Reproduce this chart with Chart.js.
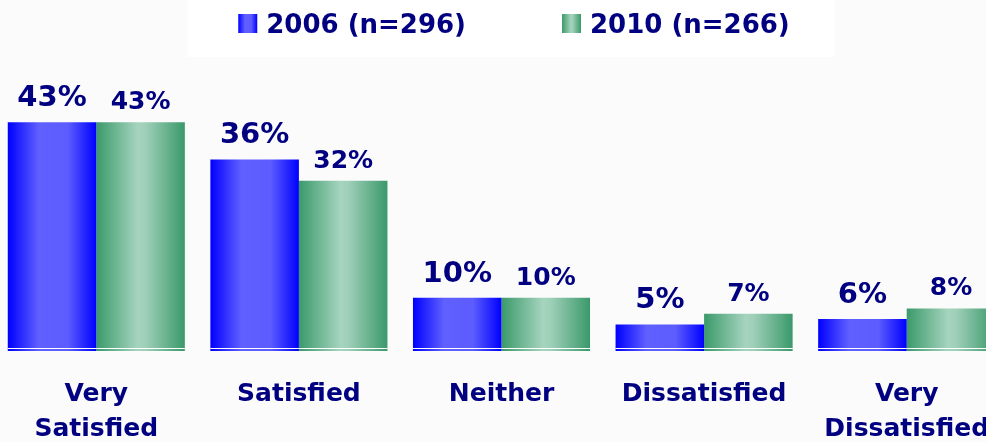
<!DOCTYPE html>
<html>
<head>
<meta charset="utf-8">
<script src="https://cdn.jsdelivr.net/npm/chart.js@4"></script>
<style>
  html, body { margin: 0; padding: 0; background: #fbfbfb; overflow: hidden; }
  body { width: 986px; height: 442px; position: relative; }
  #chart { position: absolute; left: -5px; top: 0; }
</style>
</head>
<body>
<canvas id="chart" width="1013" height="442"></canvas>
<script>
const categories = [['Very', 'Satisfied'], 'Satisfied', 'Neither', 'Dissatisfied', ['Very', 'Dissatisfied']];
const seriesNames = ['2006 (n=296)', '2010 (n=266)'];
const values2006 = [43, 36, 10, 5, 6];
const values2010 = [43, 32, 10, 7, 8];

const NAVY = '#000080';
const FONT = "'DejaVu Sans', Verdana, sans-serif";

function blueGradient(ctx, x0, x1) {
  const g = ctx.createLinearGradient(x0, 0, x1, 0);
  g.addColorStop(0, '#0000ff');
  g.addColorStop(0.35, '#6060ff');
  g.addColorStop(0.68, '#5c5cff');
  g.addColorStop(1, '#0000ff');
  return g;
}

function greenGradient(ctx, x0, x1) {
  const g = ctx.createLinearGradient(x0, 0, x1, 0);
  g.addColorStop(0, '#3a9a6a');
  g.addColorStop(0.47, '#a6d4bf');
  g.addColorStop(0.56, '#9ecfb8');
  g.addColorStop(1, '#3a996a');
  return g;
}

const makers = [blueGradient, greenGradient];

// horizontal gradient per bar, built from the element's own position
const barGradients = {
  id: 'barGradients',
  beforeDatasetsDraw(chart) {
    const ctx = chart.ctx;
    chart.data.datasets.forEach((ds, i) => {
      chart.getDatasetMeta(i).data.forEach((el) => {
        const x0 = el.x - el.width / 2;
        // options objects are shared between bars, so give each its own copy
        el.options = Object.assign({}, el.options, {
          backgroundColor: makers[i](ctx, x0, x0 + el.width),
        });
      });
    });
  },
  afterDatasetsDraw(chart) {
    const ctx = chart.ctx;
    ctx.save();
    // thin white line near the base of every bar
    chart.data.datasets.forEach((ds, i) => {
      chart.getDatasetMeta(i).data.forEach((el) => {
        ctx.fillStyle = '#ffffff';
        ctx.fillRect(el.x - el.width / 2, el.base - 3, el.width, 1);
      });
    });
    // value labels
    ctx.fillStyle = NAVY;
    ctx.textAlign = 'center';
    ctx.textBaseline = 'alphabetic';
    chart.data.datasets.forEach((ds, i) => {
      const size = i === 0 ? 29 : 25;
      const gap = i === 0 ? 16 : 13;
      ctx.font = 'bold ' + size + 'px ' + FONT;
      chart.getDatasetMeta(i).data.forEach((el, j) => {
        ctx.fillText(ds.data[j] + '%', el.x, el.y - gap);
      });
    });
    ctx.restore();
  },
};

// legend drawn on a white panel at the top
const topLegend = {
  id: 'topLegend',
  beforeDraw(chart) {
    const ctx = chart.ctx;
    const shift = 5; // canvas sits 5px left of the page
    ctx.save();
    ctx.fillStyle = '#ffffff';
    ctx.fillRect(187 + shift, 0, 648, 57);
    ctx.font = 'bold 26px ' + FONT;
    const box = 19, boxGap = 9, itemGap = 96;
    const widths = chart.data.datasets.map((d) => ctx.measureText(d.label).width);
    const total = widths.reduce((a, w) => a + box + boxGap + w, 0) + itemGap * (widths.length - 1);
    let x = 514 + shift - total / 2;
    chart.data.datasets.forEach((d, i) => {
      ctx.fillStyle = makers[i](ctx, x, x + box);
      ctx.fillRect(x, 14, box, box);
      ctx.fillStyle = NAVY;
      ctx.textBaseline = 'alphabetic';
      ctx.textAlign = 'left';
      ctx.fillText(d.label, x + box + boxGap, 33);
      x += box + boxGap + widths[i] + itemGap;
    });
    ctx.restore();
  },
};

new Chart(document.getElementById('chart'), {
  type: 'bar',
  plugins: [barGradients, topLegend],
  data: {
    labels: categories,
    datasets: [
      { label: seriesNames[0], data: values2006, backgroundColor: '#4040ff', borderWidth: 0 },
      { label: seriesNames[1], data: values2010, backgroundColor: '#6ab894', borderWidth: 0 },
    ],
  },
  options: {
    responsive: false,
    animation: false,
    categoryPercentage: 0.874,
    barPercentage: 1,
    layout: { padding: { top: 85, left: 0, right: 0, bottom: 0 } },
    plugins: {
      legend: { display: false },
      tooltip: { enabled: false },
    },
    scales: {
      y: { display: false, min: 0, max: 50 },
      x: {
        grid: { display: false },
        border: { display: false },
        ticks: {
          color: NAVY,
          font: { family: FONT, size: 25, weight: 'bold', lineHeight: 1.4 },
          padding: 18,
          maxRotation: 0,
          autoSkip: false,
        },
        afterFit(axis) { axis.height = 91; },
      },
    },
  },
});
</script>
</body>
</html>
